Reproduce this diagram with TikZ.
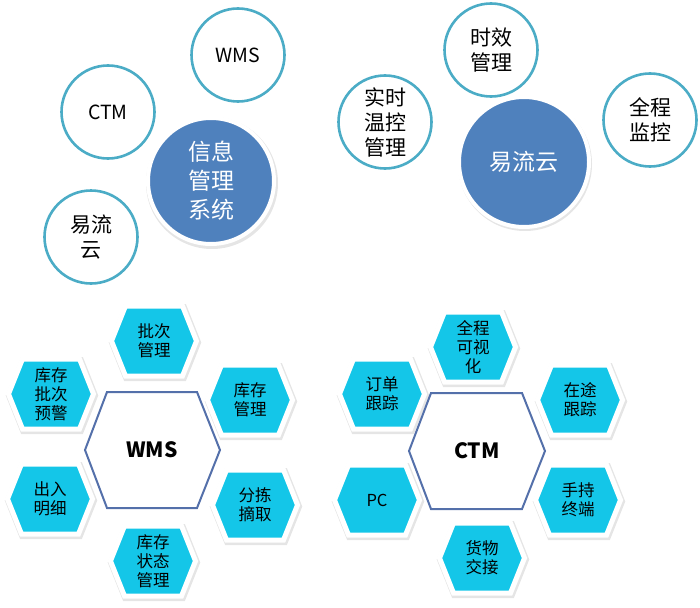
\documentclass[tikz,border=0pt]{standalone}
\usepackage{fontspec}
\setmainfont{Noto Sans CJK SC}
\usepackage{tikz}

\definecolor{ringteal}{HTML}{4BACC6}
\definecolor{discblue}{HTML}{4F81BD}
\definecolor{hexcyan}{HTML}{14C6E8}
\definecolor{hexline}{HTML}{5470AA}

\tikzset{
  ring/.style={circle, draw=ringteal, line width=2.6pt, fill=white, minimum size=93pt, inner sep=0pt, align=center, font=\fontsize{19.5}{24}\selectfont},
  ringcjk/.style={ring, font=\fontsize{21}{25}\selectfont},
  disc/.style={circle, draw=white, line width=4pt, fill=discblue, text=white, minimum size=126pt, inner sep=0pt, align=center, font=\fontsize{23}{29}\selectfont},
  hextext/.style={align=center, inner sep=0pt, font=\fontsize{16.5}{19}\selectfont},
  bigtext/.style={inner sep=0pt, font=\bfseries\fontsize{21}{24}\selectfont}
}

\begin{document}
\begin{tikzpicture}[x=1pt,y=-1pt]
\useasboundingbox (0,0) rectangle (700,607);
%information system circles
\node[ring] (ctmring) at (108,112) {CTM};
\node[ring] (wmsring) at (238,55) {WMS};
\node[ringcjk] (yiliuring) at (91,237) {易流\\云};
\fill[gray!20] (212,183) circle (66);
\node[disc] (infosys) at (211,181) {信息\\管理\\系统};
%yiliu cloud circles
\node[ringcjk] (shixiao) at (491,50) {时效\\管理};
\node[ringcjk] (wenkong) at (385,122) {实时\\温控\\管理};
\node[ringcjk] (jiankong) at (650,120) {全程\\监控};
\fill[gray!20] (525,164) circle (67);
\node[disc, minimum size=130pt] (yiliu) at (524,162) {易流云};
%small hexagons
\foreach \cx/\cy/\nm/\txt in {154/341/pici/批次\\管理, 51/394/yujing/库存\\批次\\预警, 250/400/kucun/库存\\管理, 50/499/churu/出入\\明细, 255/505/fenjian/分拣\\摘取, 153/561/zhuangtai/库存\\状态\\管理, 473/347/keshi/全程\\可视\\化, 382/394/dingdan/订单\\跟踪, 580/400/zaitu/在途\\跟踪, 377/500/pc/PC, 578/500/shouchi/手持\\终端, 482/558/jiaojie/货物\\交接}
{
  \draw[gray!20, fill=gray!20, line width=7pt, line join=miter] (\cx-42.5+1,\cy+1.5) -- (\cx-28.5+1,\cy-35+1.5) -- (\cx+28.5+1,\cy-35+1.5) -- (\cx+42.5+1,\cy+1.5) -- (\cx+28.5+1,\cy+35+1.5) -- (\cx-28.5+1,\cy+35+1.5) -- cycle;
  \draw[white, fill=hexcyan, line width=5pt, line join=miter] (\cx-42.5,\cy) -- (\cx-28.5,\cy-35) -- (\cx+28.5,\cy-35) -- (\cx+42.5,\cy) -- (\cx+28.5,\cy+35) -- (\cx-28.5,\cy+35) -- cycle;
  \node[hextext] (\nm) at (\cx,\cy) {\txt};
}
%big hexagons
\draw[hexline, line width=2pt, fill=white] (85,450) -- (107,392) -- (197,392) -- (220,450) -- (197,508) -- (107,508) -- cycle;
\node[bigtext] (wmshex) at (152,450) {WMS};
\draw[hexline, line width=2pt, fill=white] (409,451) -- (431,393) -- (522,393) -- (545,451) -- (522,509) -- (431,509) -- cycle;
\node[bigtext] (ctmhex) at (477,451) {CTM};
\end{tikzpicture}
\end{document}
